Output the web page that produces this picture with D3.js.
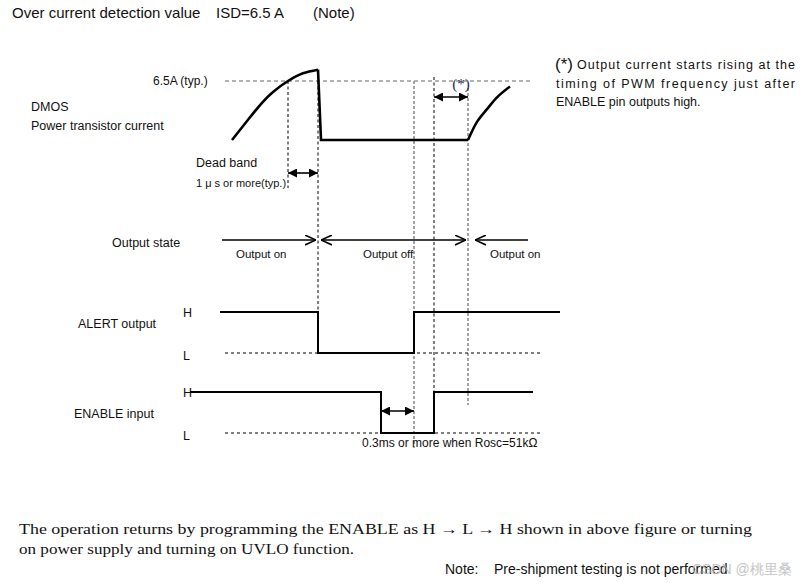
<!DOCTYPE html>
<html>
<head>
<meta charset="utf-8">
<script src="https://cdn.jsdelivr.net/npm/d3@7"></script>
<style>
  body { margin: 0; background: #fff; }
  text { font-family: "Liberation Sans", Arial, sans-serif; fill: #111; }
  .serif { font-family: "Liberation Serif", "Times New Roman", serif; }
</style>
</head>
<body>
<div id="chart"></div>
<script>
// time runs in arbitrary units from the start of the ENABLE trace
const currentRise = [[42, 0], [60, 2.5], [72, 4.1], [83, 5.3], [98, 6.5], [113, 7.35], [128, 7.75]];
const currentOff = [[128, 7.75], [131, 0], [278, 0]];
const currentRestart = [[278, 0], [287, 2.0], [297, 3.4], [307, 4.7], [320, 5.9]];

const alertLevels = [[30, 'H'], [128, 'L'], [224, 'H'], [370, 'H']];
const enableLevels = [[0, 'H'], [191, 'L'], [244, 'H'], [343, 'H']];

// event times: dead band start, shutdown, ALERT back high, ENABLE high, restart
const guideTimes = [98, 128, 224, 244, 278];
const outputStates = [
  { from: 32, to: 128, label: 'Output on', at: 46 },
  { from: 128, to: 278, label: 'Output off', at: 173 },
  { from: 278, to: 338, label: 'Output on', at: 300 }
];
const titleParts = ['Over current detection value', 'ISD=6.5 A', '(Note)'];
const isdLabel = '6.5A (typ.)';

const width = 804, height = 585;
const svg = d3.select('#chart').append('svg')
  .attr('width', width)
  .attr('height', height);

const x = d3.scaleLinear().domain([0, 370]).range([190, 560]);
const yCur = d3.scaleLinear().domain([0, 6.5]).range([140, 81]);
const yAlert = d3.scaleOrdinal().domain(['H', 'L']).range([312, 353]);
const yEnable = d3.scaleOrdinal().domain(['H', 'L']).range([392, 433]);

// markers
const defs = svg.append('defs');
defs.append('marker')
  .attr('id', 'solid')
  .attr('viewBox', '0 0 10 10')
  .attr('refX', 10).attr('refY', 5)
  .attr('markerWidth', 9).attr('markerHeight', 9)
  .attr('markerUnits', 'userSpaceOnUse')
  .attr('orient', 'auto-start-reverse')
  .append('path').attr('d', 'M0,0L10,5L0,10Z').attr('fill', '#000');
defs.append('marker')
  .attr('id', 'open')
  .attr('viewBox', '0 0 10 10')
  .attr('refX', 10).attr('refY', 5)
  .attr('markerWidth', 11).attr('markerHeight', 11)
  .attr('markerUnits', 'userSpaceOnUse')
  .attr('orient', 'auto-start-reverse')
  .append('path').attr('d', 'M0,0.5L10,5L0,9.5')
  .attr('fill', 'none').attr('stroke', '#000').attr('stroke-width', 1.4);

// title
const titleX = [12, 216, 313];
titleParts.forEach((s, i) => {
  svg.append('text').attr('x', titleX[i]).attr('y', 18).attr('font-size', 15).text(s);
});

// 6.5A level line
svg.append('line')
  .attr('x1', 225).attr('x2', 532)
  .attr('y1', yCur(6.5)).attr('y2', yCur(6.5))
  .attr('stroke', '#666').attr('stroke-width', 1).attr('stroke-dasharray', '4,3');
svg.append('text').attr('x', 153).attr('y', 85).attr('font-size', 12).text(isdLabel);
svg.append('text').attr('x', 31).attr('y', 111).attr('font-size', 12.5).text('DMOS');
svg.append('text').attr('x', 31).attr('y', 130).attr('font-size', 12.5).text('Power transistor current');

// vertical guide lines
const guideSpec = [
  { y1: yCur(6.5), y2: 188, grey: false },
  { y1: 70, y2: yAlert('H'), grey: false },
  { y1: yCur(6.5), y2: 448, grey: true },
  { y1: 77, y2: yEnable('H'), grey: false },
  { y1: 88, y2: 405, grey: true }
];
guideTimes.forEach((t, i) => {
  const g = guideSpec[i];
  svg.append('line')
    .attr('x1', x(t)).attr('x2', x(t))
    .attr('y1', g.y1).attr('y2', g.y2)
    .attr('stroke', g.grey ? '#999' : '#000')
    .attr('stroke-width', g.grey ? 1.8 : 1)
    .attr('stroke-dasharray', g.grey ? '3,2' : '3,2.5');
});

// current trace
const smooth = d3.line().x(d => x(d[0])).y(d => yCur(d[1])).curve(d3.curveNatural);
const straight = d3.line().x(d => x(d[0])).y(d => yCur(d[1]));
svg.append('path').attr('d', smooth(currentRise))
  .attr('fill', 'none').attr('stroke', '#000').attr('stroke-width', 2.6);
svg.append('path').attr('d', straight(currentOff))
  .attr('fill', 'none').attr('stroke', '#000').attr('stroke-width', 2.6)
  .attr('stroke-linejoin', 'miter');
svg.append('path').attr('d', smooth(currentRestart))
  .attr('fill', 'none').attr('stroke', '#000').attr('stroke-width', 2.6);

// double arrows
function dblArrow(t1, t2, y) {
  svg.append('line')
    .attr('x1', x(t1)).attr('x2', x(t2))
    .attr('y1', y).attr('y2', y)
    .attr('stroke', '#000').attr('stroke-width', 1.6)
    .attr('marker-start', 'url(#solid)').attr('marker-end', 'url(#solid)');
}
dblArrow(guideTimes[0], guideTimes[1], 173);
dblArrow(guideTimes[3], guideTimes[4], 97);
dblArrow(enableLevels[1][0], guideTimes[2], 411);

svg.append('text').attr('x', 196).attr('y', 167).attr('font-size', 12.5).text('Dead band');
svg.append('text').attr('x', 196).attr('y', 187).attr('font-size', 11)
  .attr('xml:space', 'preserve')
  .text('1 \u03bc s or more(typ.)');
svg.append('text').attr('class', 'serif').attr('x', 461).attr('y', 89)
  .attr('font-size', 15).attr('text-anchor', 'middle').style('fill', '#1c2a55').text('(*)');

// note on the right
svg.append('text').attr('x', 555).attr('y', 70).attr('font-size', 17).text('(*)');
svg.append('text').attr('x', 577).attr('y', 69).attr('font-size', 12.5)
  .attr('textLength', 218).attr('lengthAdjust', 'spacing')
  .text('Output current starts rising at the');
svg.append('text').attr('x', 556).attr('y', 88).attr('font-size', 12.5)
  .attr('textLength', 239).attr('lengthAdjust', 'spacing')
  .text('timing of PWM frequency just after');
svg.append('text').attr('x', 556).attr('y', 106).attr('font-size', 12.5)
  .text('ENABLE pin outputs high.');

// output state
svg.append('text').attr('x', 112).attr('y', 247).attr('font-size', 12.5).text('Output state');
outputStates.forEach((s, i) => {
  const line = svg.append('line')
    .attr('y1', 240).attr('y2', 240)
    .attr('stroke', '#000').attr('stroke-width', 1.6);
  if (i === 0) {
    line.attr('x1', x(s.from)).attr('x2', x(s.to) - 2).attr('marker-end', 'url(#open)');
  } else if (i === 1) {
    line.attr('x1', x(s.from) + 3).attr('x2', x(s.to) - 2)
      .attr('marker-start', 'url(#open)').attr('marker-end', 'url(#open)');
  } else {
    line.attr('x1', x(s.from) + 7).attr('x2', x(s.to)).attr('marker-start', 'url(#open)');
  }
  svg.append('text').attr('x', x(s.at)).attr('y', 258).attr('font-size', 11.5).text(s.label);
});

// digital traces
function levelTrace(levels, yScale, name, labelX, labelY) {
  svg.append('line')
    .attr('x1', 225).attr('x2', 543)
    .attr('y1', yScale('L')).attr('y2', yScale('L'))
    .attr('stroke', '#000').attr('stroke-width', 1).attr('stroke-dasharray', '3,3');
  svg.append('path')
    .attr('d', d3.line().x(d => x(d[0])).y(d => yScale(d[1])).curve(d3.curveStepAfter)(levels))
    .attr('fill', 'none').attr('stroke', '#000').attr('stroke-width', 2);
  svg.append('text').attr('x', labelX).attr('y', labelY).attr('font-size', 12.5).text(name);
  svg.append('text').attr('x', 183).attr('y', yScale('H') + 5).attr('font-size', 12.5).text('H');
  svg.append('text').attr('x', 183).attr('y', yScale('L') + 7).attr('font-size', 12.5).text('L');
}
levelTrace(alertLevels, yAlert, 'ALERT output', 78, 328);
levelTrace(enableLevels, yEnable, 'ENABLE input', 74, 418);

svg.append('text').attr('x', 362).attr('y', 447).attr('font-size', 12)
  .text('0.3ms or more when Rosc=51k\u03a9');

// footnote
svg.append('text').attr('class', 'serif').attr('x', 19).attr('y', 534).attr('font-size', 15)
  .attr('textLength', 733).attr('lengthAdjust', 'spacingAndGlyphs')
  .text('The operation returns by programming the ENABLE as H \u2192 L \u2192 H shown in above figure or turning');
svg.append('text').attr('class', 'serif').attr('x', 19).attr('y', 554).attr('font-size', 15)
  .attr('textLength', 335).attr('lengthAdjust', 'spacingAndGlyphs')
  .text('on power supply and turning on UVLO function.');
svg.append('text').attr('x', 445).attr('y', 574).attr('font-size', 14)
  .attr('xml:space', 'preserve')
  .text('Note:    Pre-shipment testing is not performed');
svg.append('text').attr('x', 692).attr('y', 574).attr('font-size', 14)
  .style('fill', '#bbb').style('opacity', 0.85)
  .attr('font-family', '"Noto Sans CJK SC", sans-serif')
  .text('CSDN @桃里桑');
</script>
</body>
</html>
